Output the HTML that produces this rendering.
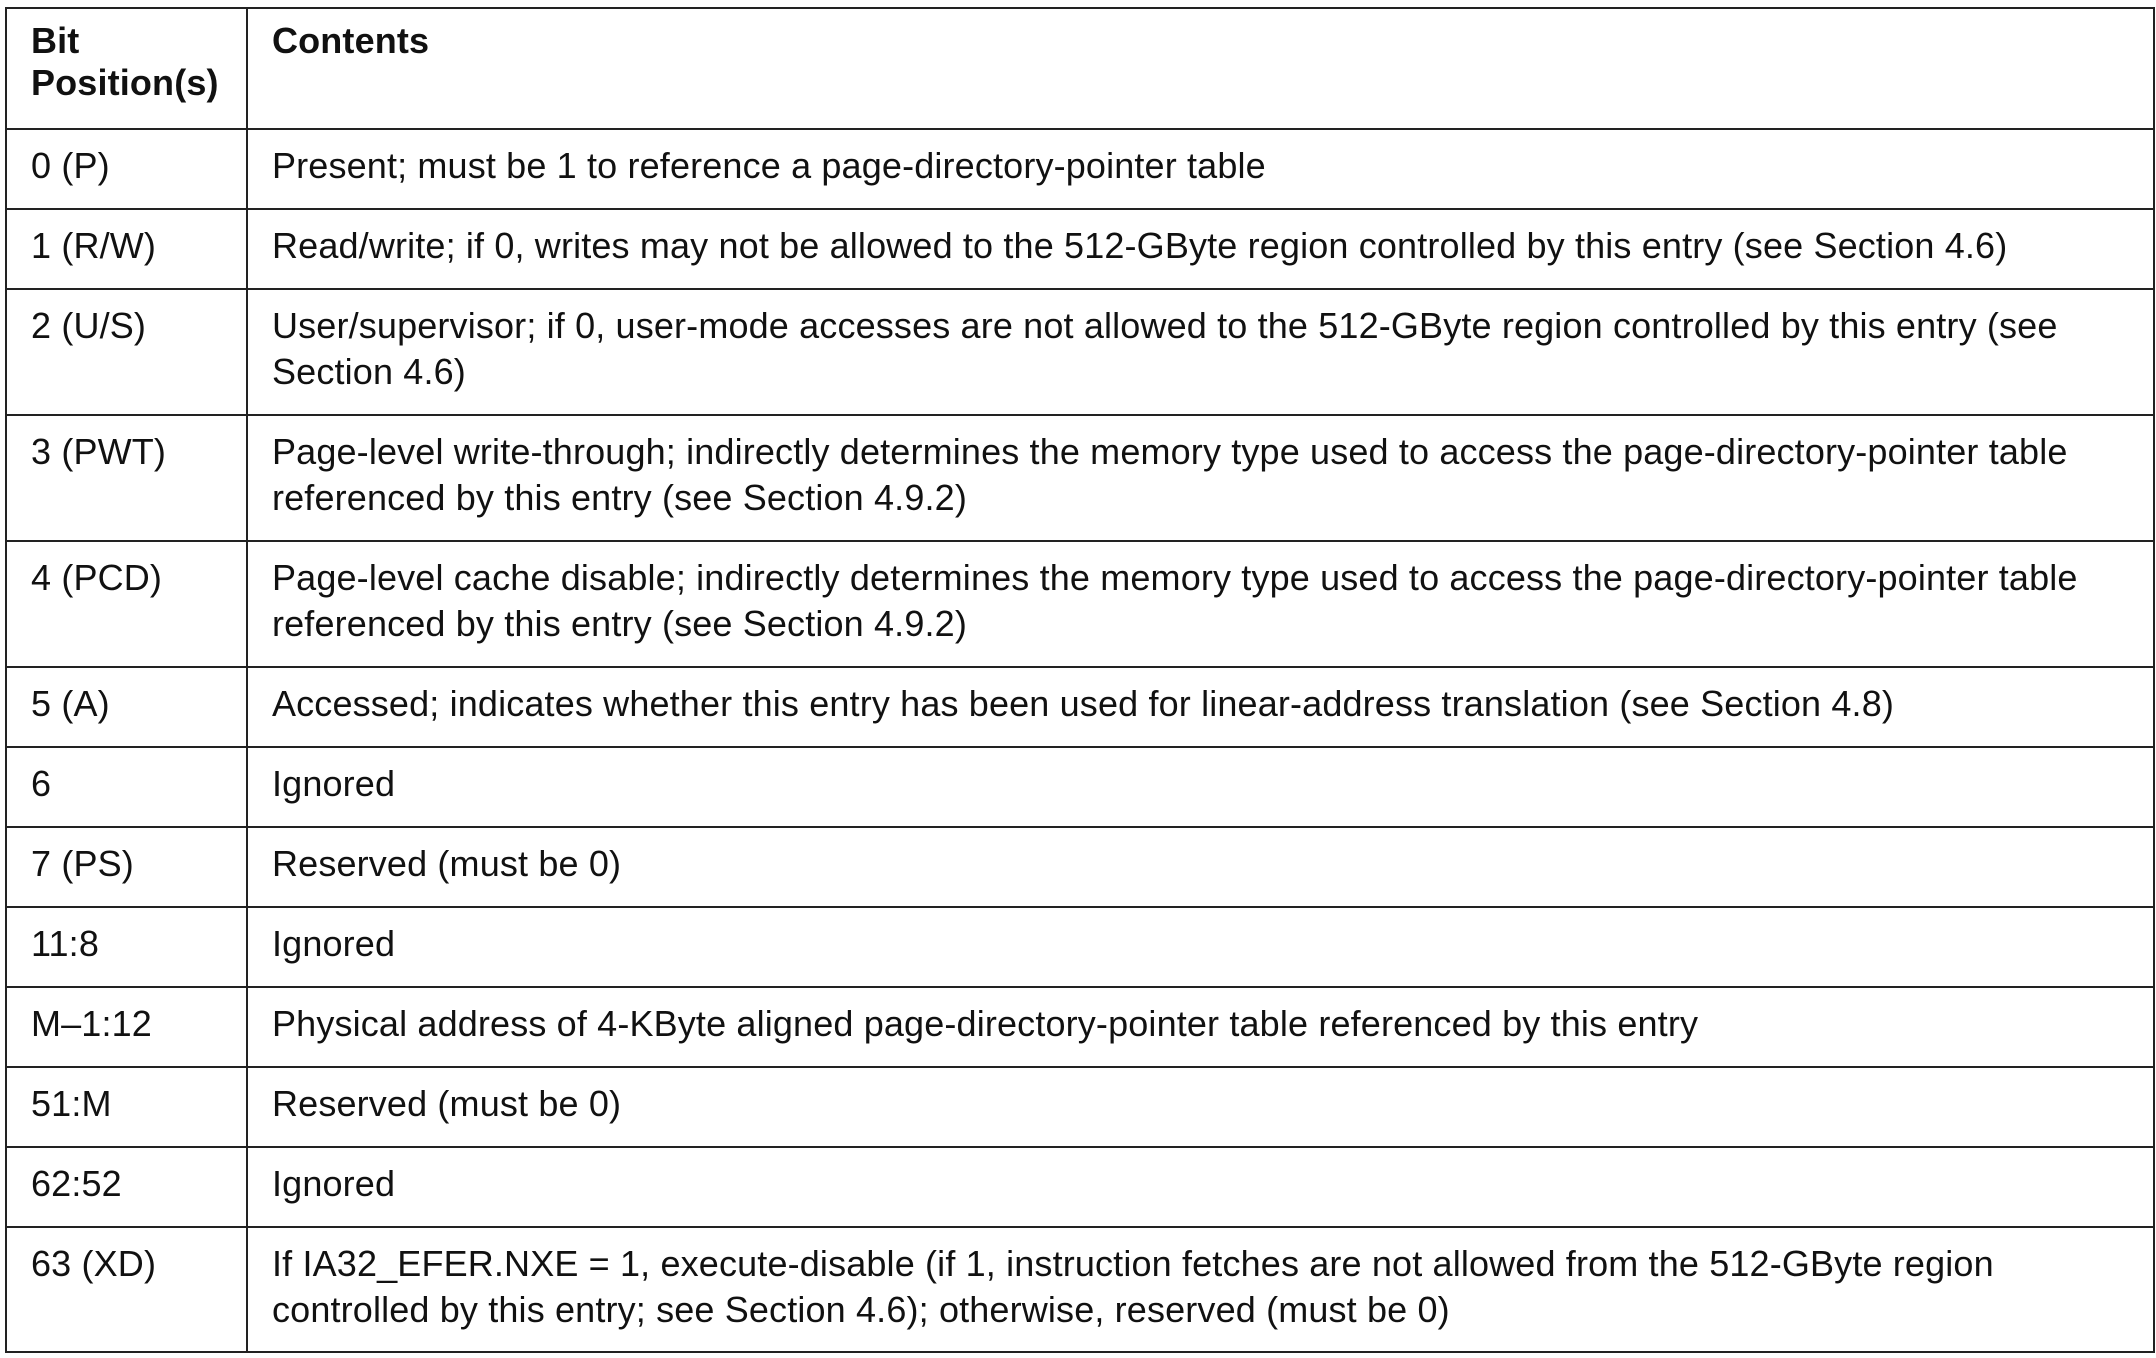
<!DOCTYPE html>
<html><head><meta charset="utf-8"><style>
html,body{margin:0;padding:0;background:#fff;width:2156px;height:1358px;overflow:hidden}
.t{position:absolute;left:5px;top:7px;border-collapse:collapse;font-family:"Liberation Sans","DejaVu Sans",sans-serif;font-size:36px;letter-spacing:0.15px;color:#111;table-layout:fixed;width:2148px}
td{border:2px solid #222;vertical-align:top;padding:13px 0 0 24px;line-height:46px;white-space:nowrap;box-sizing:border-box;overflow:hidden}
th{border:2px solid #222;vertical-align:top;text-align:left;padding:11px 0 0 24px;line-height:42px;font-weight:bold;box-sizing:border-box}
</style></head><body>
<table class="t">
<colgroup><col style="width:241px"><col style="width:1907px"></colgroup>
<tr style="height:121px"><th>Bit<br>Position(s)</th><th>Contents</th></tr>
<tr style="height:80px"><td>0 (P)</td><td>Present; must be 1 to reference a page-directory-pointer table</td></tr>
<tr style="height:80px"><td>1 (R/W)</td><td>Read/write; if 0, writes may not be allowed to the 512-GByte region controlled by this entry (see Section 4.6)</td></tr>
<tr style="height:126px"><td>2 (U/S)</td><td>User/supervisor; if 0, user-mode accesses are not allowed to the 512-GByte region controlled by this entry (see<br>Section 4.6)</td></tr>
<tr style="height:126px"><td>3 (PWT)</td><td>Page-level write-through; indirectly determines the memory type used to access the page-directory-pointer table<br>referenced by this entry (see Section 4.9.2)</td></tr>
<tr style="height:126px"><td>4 (PCD)</td><td>Page-level cache disable; indirectly determines the memory type used to access the page-directory-pointer table<br>referenced by this entry (see Section 4.9.2)</td></tr>
<tr style="height:80px"><td>5 (A)</td><td>Accessed; indicates whether this entry has been used for linear-address translation (see Section 4.8)</td></tr>
<tr style="height:80px"><td>6</td><td>Ignored</td></tr>
<tr style="height:80px"><td>7 (PS)</td><td>Reserved (must be 0)</td></tr>
<tr style="height:80px"><td>11:8</td><td>Ignored</td></tr>
<tr style="height:80px"><td>M–1:12</td><td>Physical address of 4-KByte aligned page-directory-pointer table referenced by this entry</td></tr>
<tr style="height:80px"><td>51:M</td><td>Reserved (must be 0)</td></tr>
<tr style="height:80px"><td>62:52</td><td>Ignored</td></tr>
<tr style="height:125px"><td>63 (XD)</td><td>If IA32_EFER.NXE = 1, execute-disable (if 1, instruction fetches are not allowed from the 512-GByte region<br>controlled by this entry; see Section 4.6); otherwise, reserved (must be 0)</td></tr>
</table>
</body></html>
